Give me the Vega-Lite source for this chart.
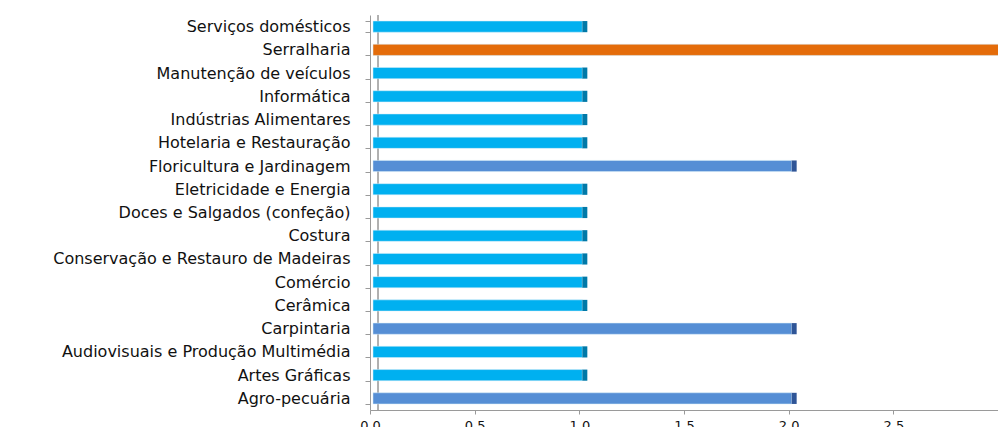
{
  "$schema": "https://vega.github.io/schema/vega-lite/v6.json",
  "width": 628,
  "height": 395,
  "autosize": {"type": "none"},
  "padding": {"left": 370, "top": 15, "right": 0, "bottom": 17},
  "background": "white",
  "config": {"view": {"stroke": null}},
  "data": {"values": [
    {"curso": "Serviços domésticos", "valor": 1},
    {"curso": "Serralharia", "valor": 3},
    {"curso": "Manutenção de veículos", "valor": 1},
    {"curso": "Informática", "valor": 1},
    {"curso": "Indústrias Alimentares", "valor": 1},
    {"curso": "Hotelaria e Restauração", "valor": 1},
    {"curso": "Floricultura e Jardinagem", "valor": 2},
    {"curso": "Eletricidade e Energia", "valor": 1},
    {"curso": "Doces e Salgados (confeção)", "valor": 1},
    {"curso": "Costura", "valor": 1},
    {"curso": "Conservação e Restauro de Madeiras", "valor": 1},
    {"curso": "Comércio", "valor": 1},
    {"curso": "Cerâmica", "valor": 1},
    {"curso": "Carpintaria", "valor": 2},
    {"curso": "Audiovisuais e Produção Multimédia", "valor": 1},
    {"curso": "Artes Gráficas", "valor": 1},
    {"curso": "Agro-pecuária", "valor": 2}
  ]},
  "encoding": {
    "y": {
      "field": "curso", "type": "nominal", "sort": null, "title": null,
      "scale": {"paddingInner": 0.52, "paddingOuter": 0.26},
      "axis": {
        "domainColor": "#9a9a9a", "tickColor": "#9a9a9a", "tickBand": "extent",
        "tickSize": 5, "labelPadding": 15, "labelFont": "DejaVu Sans",
        "labelFontSize": 16, "labelColor": "#111111", "labelLimit": 400
      }
    }
  },
  "layer": [
    {
      "mark": {"type": "rule", "color": "#b0b0b0", "xOffset": 8, "strokeWidth": 1},
      "encoding": {"x": {"datum": 0, "type": "quantitative"}, "y": null}
    },
    {
      "mark": {"type": "bar", "xOffset": 3, "strokeWidth": 1, "strokeOpacity": 0.5, "stroke": "#d8eefa"},
      "encoding": {
        "x": {
          "field": "valor", "type": "quantitative", "title": null,
          "scale": {"domain": [0, 3]},
          "axis": {
            "values": [0, 0.5, 1, 1.5, 2, 2.5], "grid": false,
            "domainColor": "#9a9a9a", "tickColor": "#9a9a9a", "tickSize": 4,
            "labelFont": "DejaVu Sans", "labelFontSize": 13, "labelColor": "#111111",
            "labelFlush": false, "labelPadding": 5
          }
        },
        "color": {
          "field": "valor", "type": "ordinal", "legend": null,
          "scale": {"domain": [1, 2, 3], "range": ["#00B0F0", "#558ED5", "#E46C0A"]}
        }
      }
    },
    {
      "mark": {"type": "bar", "xOffset": 3, "x2Offset": 8},
      "encoding": {
        "x": {"field": "valor", "type": "quantitative"},
        "x2": {"field": "valor"},
        "color": {
          "field": "valor", "type": "ordinal", "legend": null,
          "scale": {"domain": [1, 2, 3], "range": ["#0079A8", "#2F5597", "#A94F05"]}
        }
      }
    }
  ],
  "resolve": {"scale": {"color": "independent"}}
}
